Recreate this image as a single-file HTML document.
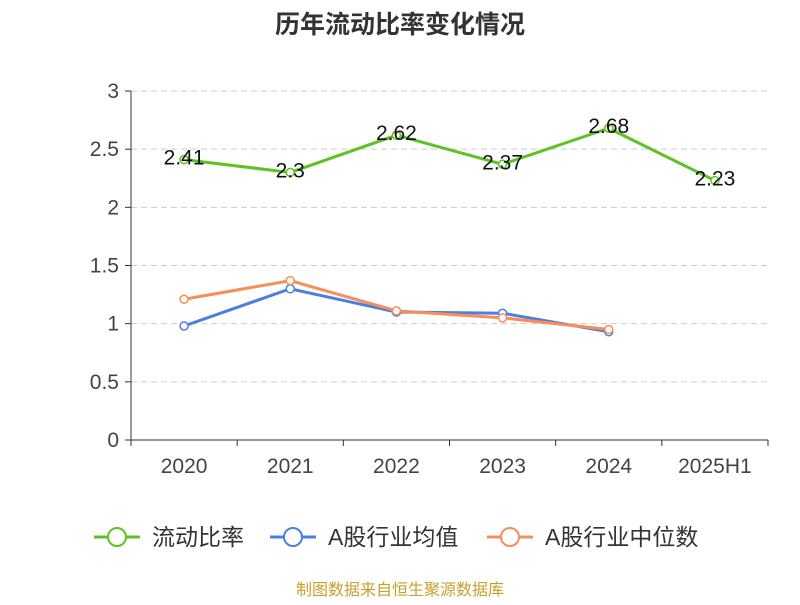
<!DOCTYPE html>
<html><head><meta charset="utf-8"><style>
body{margin:0;background:#fff;font-family:"Liberation Sans","Noto Sans CJK SC",sans-serif}
svg text{font-family:"Liberation Sans","Noto Sans CJK SC",sans-serif}
</style></head><body>
<svg id="chart" width="800" height="600">
<text x="400" y="33" text-anchor="middle" font-size="25" font-weight="bold" fill="#333">历年流动比率变化情况</text>
<g id="grid"></g><g id="axes"></g><g id="series"></g><g id="legend"></g>
<text x="400" y="595" text-anchor="middle" font-size="16" fill="#c8a02a">制图数据来自恒生聚源数据库</text>
</svg>
<script>
const categories=["2020","2021","2022","2023","2024","2025H1"];
const currentRatio=[2.41,2.3,2.62,2.37,2.68,2.23];
const industryMean=[0.98,1.30,1.10,1.09,0.93,null];
const industryMedian=[1.21,1.37,1.11,1.05,0.95,null];
const yTicks=[0,0.5,1,1.5,2,2.5,3];
const seriesNames=["流动比率","A股行业均值","A股行业中位数"];
const ns="http://www.w3.org/2000/svg";
const X0=131,X1=768,Y0=440,Y1=91;
const bw=(X1-X0)/categories.length;
const xs=i=>X0+bw*(i+0.5);
const ys=v=>Y0-(v/3)*(Y0-Y1);
function mk(tag,attrs,parent){const e=document.createElementNS(ns,tag);for(const k in attrs)e.setAttribute(k,attrs[k]);parent.appendChild(e);return e;}
const grid=document.getElementById('grid'),axes=document.getElementById('axes'),ser=document.getElementById('series'),leg=document.getElementById('legend');
yTicks.forEach(t=>{
 const y=ys(t);
 if(t>0){const l=mk('line',{x1:X0,x2:X1,y1:y,y2:y,stroke:'#ccc','stroke-dasharray':'6,4'},grid);
 
 }
 mk('line',{x1:X0-6,x2:X0,y1:y,y2:y,stroke:'#333'},axes);
 const tx=mk('text',{x:X0-12,y:y+7,'text-anchor':'end','font-size':21,fill:'#444'},axes);tx.textContent=t;
 
 
});
mk('line',{x1:X0,x2:X0,y1:Y1,y2:Y0,stroke:'#333'},axes);
mk('line',{x1:X0,x2:X1,y1:Y0,y2:Y0,stroke:'#333'},axes);
for(let i=0;i<=categories.length;i++){const x=X0+bw*i;mk('line',{x1:x,x2:x,y1:Y0,y2:Y0+6,stroke:'#333'},axes);}
categories.forEach((c,i)=>{const t=mk('text',{x:xs(i),y:473,'text-anchor':'middle','font-size':21,fill:'#444'},axes);t.textContent=c;
 
 });
function drawSeries(vals,color,name,labels){
 const g=mk('g',{},ser);
 
 
 const pts=vals.map((v,i)=>v==null?null:[xs(i),ys(v)]).filter(p=>p);
 mk('polyline',{points:pts.map(p=>p.join(',')).join(' '),fill:'none',stroke:color,'stroke-width':3},g);
 vals.forEach((v,i)=>{if(v==null)return;
  const c=mk('circle',{cx:xs(i),cy:ys(v),r:4,fill:'#fff',stroke:color,'stroke-width':1.5},g);
  
  
  if(labels){const t=mk('text',{x:xs(i),y:ys(v)+5,'text-anchor':'middle','font-size':21,fill:'#111'},g);t.textContent=v;
   
   }
 });
}
drawSeries(industryMean,'#4a7ee0','series-industry-mean',false);
drawSeries(industryMedian,'#f88d5a','series-industry-median',false);
drawSeries(currentRatio,'#5cc323','series-current-ratio',true);
const legColors=['#5cc323','#4a7ee0','#f88d5a'];
const legX=[94,270,487];
seriesNames.forEach((n,i)=>{
 const g=mk('g',{},leg);
 
 
 mk('line',{x1:legX[i],x2:legX[i]+46,y1:537,y2:537,stroke:legColors[i],'stroke-width':3},g);
 mk('circle',{cx:legX[i]+23,cy:537,r:9,fill:'#fff',stroke:legColors[i],'stroke-width':2},g);
 const t=mk('text',{x:legX[i]+58,y:545,'font-size':23,fill:'#333'},g);t.textContent=n;
});
</script>
</body></html>
